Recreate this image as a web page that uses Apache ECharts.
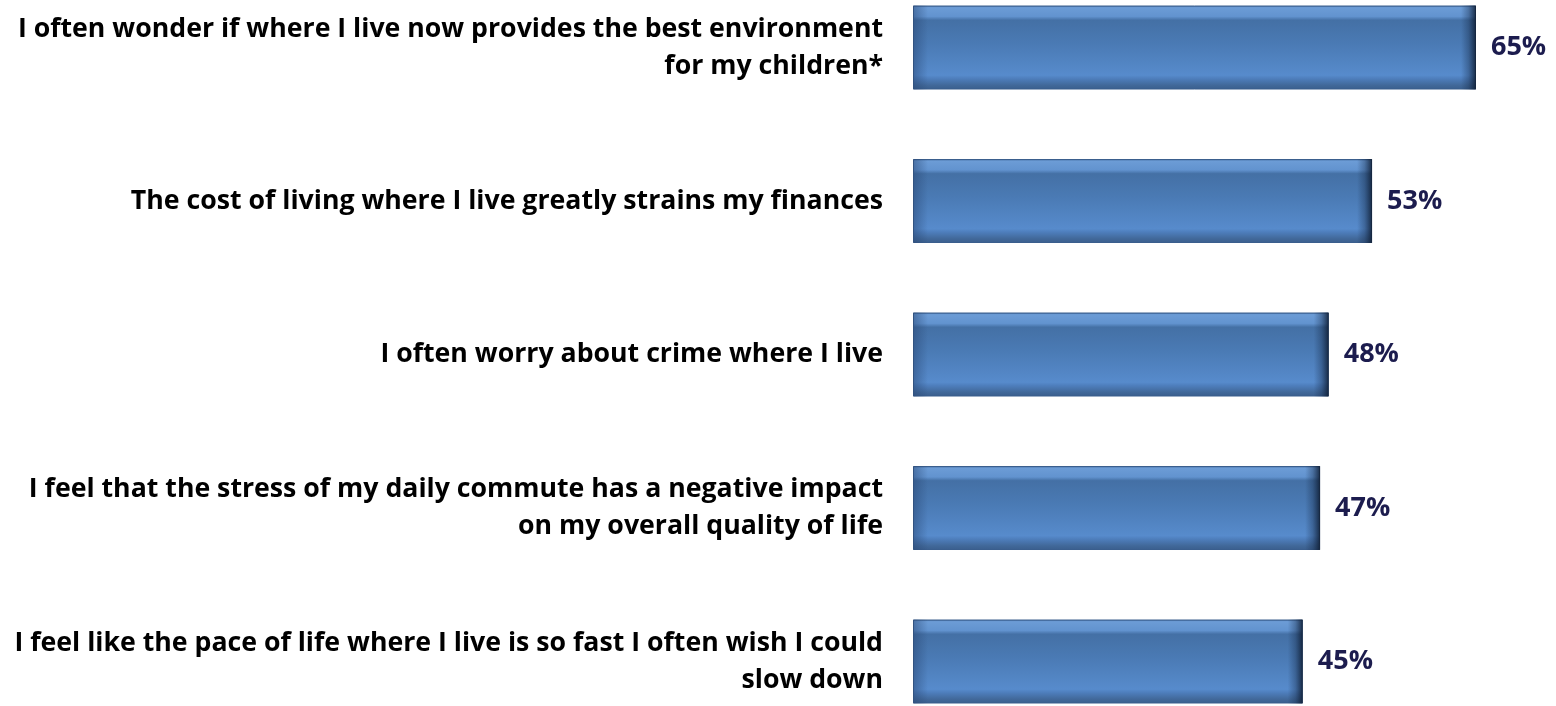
<!DOCTYPE html>
<html>
<head>
<meta charset="utf-8">
<script src="https://cdn.jsdelivr.net/npm/echarts@6/dist/echarts.min.js"></script>
<style>
html,body{margin:0;padding:0;background:#fff;}
#chart{width:1556px;height:706px;}
</style>
</head>
<body>
<div id="chart"></div>
<script>
const categories = [
  "I often wonder if where I live now provides the best environment\nfor my children*",
  "The cost of living where I live greatly strains my finances",
  "I often worry about crime where I live",
  "I feel that the stress of my daily commute has a negative impact\non my overall quality of life",
  "I feel like the pace of life where I live is so fast I often wish I could\nslow down"
];
const values = [65, 53, 48, 47, 45];

const AXIS_MAX = 70;
const GRID_W = 606.3;
const BEVEL = 15;

const chart = echarts.init(document.getElementById('chart'));
const barGradient = new echarts.graphic.LinearGradient(0, 0, 0, 1, [
  {offset: 0, color: '#3d6496'},
  {offset: 0.025, color: '#6c9cd6'},
  {offset: 0.13, color: '#6293cf'},
  {offset: 0.175, color: '#4470a5'},
  {offset: 0.45, color: '#4a7ab4'},
  {offset: 0.83, color: '#578bcc'},
  {offset: 0.87, color: '#4e7ebc'},
  {offset: 0.95, color: '#416899'},
  {offset: 1, color: '#3a5e8d'}
]);
function bevelStyle(v) {
  const len = v / AXIS_MAX * GRID_W;
  const f = BEVEL / len;
  return {
    color: new echarts.graphic.LinearGradient(0, 0, 1, 0, [
      {offset: 0, color: 'rgba(40,70,115,0.5)'},
      {offset: f, color: 'rgba(40,70,115,0.0)'},
      {offset: 1 - f, color: 'rgba(20,40,70,0.0)'},
      {offset: 1 - f * 0.5, color: 'rgba(20,40,70,0.35)'},
      {offset: 1, color: 'rgba(12,25,45,0.85)'}
    ])
  };
}
chart.setOption({
  animation: false,
  grid: {left: 913, top: 47.5, width: GRID_W, height: 614, containLabel: false},
  xAxis: {type: 'value', min: 0, max: AXIS_MAX, show: false},
  yAxis: {
    type: 'category', data: categories, inverse: true, boundaryGap: false,
    axisLine: {show: false}, axisTick: {show: false}, splitLine: {show: false},
    axisLabel: {
      margin: 30, align: 'right', color: '#000',
      fontFamily: 'Open Sans', fontWeight: 'bold', fontSize: 26.7, lineHeight: 37
    }
  },
  series: [{
    type: 'bar', data: values, barWidth: 84, clip: false, z: 2,
    itemStyle: {color: barGradient, borderColor: '#3a5e8d', borderWidth: 1},
    label: {
      show: true, position: 'right', distance: 15,
      formatter: p => p.value + '%',
      color: '#1c1c4e', fontFamily: 'Open Sans', fontWeight: 'bold', fontSize: 27
    }
  }, {
    type: 'bar', barWidth: 84, barGap: '-100%', clip: false, silent: true, z: 3,
    data: values.map(v => ({value: v, itemStyle: bevelStyle(v)}))
  }]
});
</script>
</body>
</html>
